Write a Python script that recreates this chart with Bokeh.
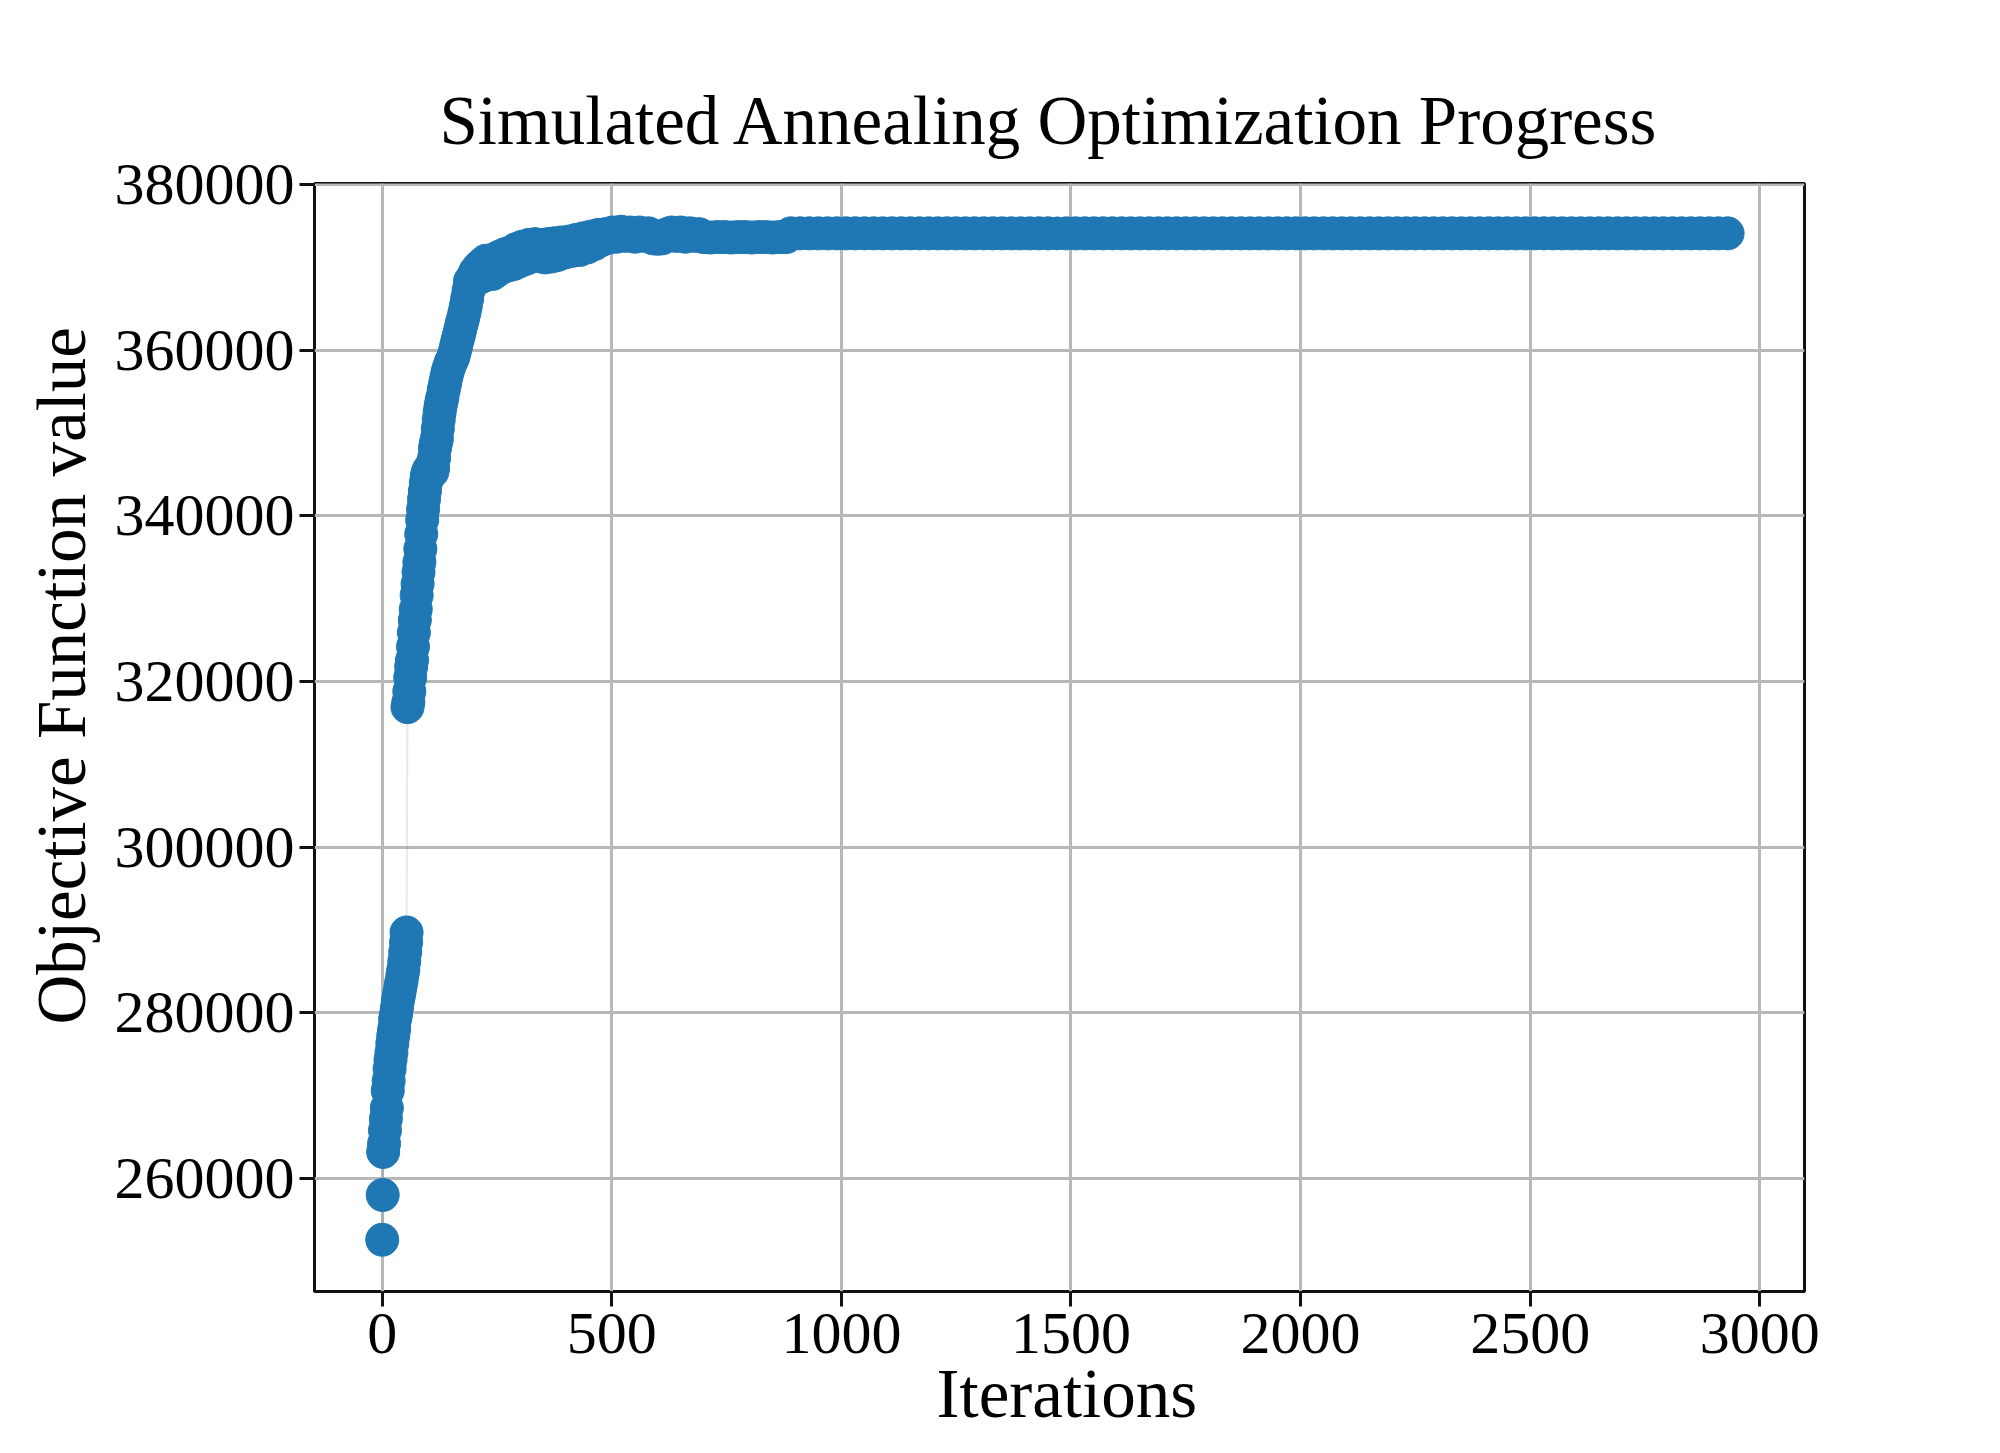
from bokeh.plotting import figure
from bokeh.models import Range1d, FixedTicker, Title
from bokeh.embed import file_html
from bokeh.resources import INLINE

# ---- data ----
# early climb (iterations 0-54)
iter_early = [0, 1, 2, 4, 6, 8, 10, 12, 14, 16, 18, 20, 22, 24, 26, 28, 30,
              32, 34, 36, 38, 40, 42, 44, 46, 48, 50, 52, 53]
value_early = [252600, 258000, 263200, 264200, 265800, 267200, 268500, 270600,
               271800, 273200, 274300, 275200, 276300, 277200, 278000, 279200,
               279800, 280600, 281400, 282000, 282600, 283300, 283800, 284600,
               285200, 286200, 287300, 288500, 289700]

# steep climb after the jump (iterations 55-200)
iter_steep = [55, 57, 59, 61, 63, 65, 67, 69, 71, 73, 75, 77, 79, 81, 83, 85,
              87, 89, 91, 93, 95, 97, 99, 101, 103, 105, 107, 109, 111, 113,
              115, 117, 119, 121, 123, 125, 127, 129, 131, 134, 137, 140, 143,
              146, 149, 152, 155, 158, 161, 164, 167, 170, 173, 176, 179, 182,
              185, 188, 191, 194, 197, 200]
value_steep = [316900, 317500, 318800, 320500, 321800, 322600, 324200, 325900,
               327400, 328700, 330400, 331800, 333200, 334400, 336000, 337800,
               339500, 340800, 342000, 343000, 344000, 344800, 345200, 345500,
               345000, 345600, 346000, 345300, 345800, 347000, 348200, 348800,
               349300, 350500, 351600, 352500, 353200, 353800, 354300, 355200,
               356000, 356800, 357500, 358000, 358500, 358800, 359200, 359800,
               360500, 361200, 361800, 362500, 363200, 363800, 364500, 365300,
               366200, 367200, 368300, 368000, 368800, 369100]

# slow approach to the plateau (iterations 203-690)
iter_knee = [203, 206, 210, 214, 218, 222, 226, 230, 235, 240, 245, 250, 256,
             262, 268, 274, 280, 286, 292, 298, 305, 312, 319, 326, 333, 340,
             347, 354, 361, 368, 375, 382, 390, 398, 406, 414, 422, 430, 438,
             446, 454, 462, 470, 478, 486, 494, 502, 510, 520, 530, 540, 550,
             560, 570, 580, 590, 600, 610, 620, 630, 640, 650, 660, 670, 680,
             690]
value_knee = [369500, 368600, 370000, 368800, 370400, 369000, 370800, 369400,
              370600, 369200, 371000, 369600, 371300, 370000, 371600, 370200,
              371800, 370400, 372200, 370700, 372500, 371000, 372700, 371300,
              372800, 371400, 372700, 371200, 372800, 371300, 372900, 371500,
              373000, 371800, 373100, 372000, 373300, 372100, 373500, 372400,
              373700, 372800, 373900, 373300, 374000, 373600, 374200, 373700,
              374300, 373800, 374200, 373700, 374200, 373800, 374100, 373500,
              373450, 373500, 374000, 374200, 373800, 374200, 373700, 374100,
              373800, 374000]

# short lower step (iterations 700-880)
iter_step = [700, 715, 730, 745, 760, 775, 790, 805, 820, 835, 850, 865, 880]
value_step = [373650, 373600, 373650, 373650, 373600, 373650, 373650, 373600,
              373650, 373650, 373600, 373650, 373650]

# final plateau (iterations 890-2949)
iter_plateau = [890, 910, 930, 950, 970, 990, 1010, 1030, 1050, 1070, 1090,
                1110, 1130, 1150, 1170, 1190, 1210, 1230, 1250, 1270, 1290,
                1310, 1330, 1350, 1370, 1390, 1410, 1430, 1450, 1470, 1490,
                1510, 1530, 1550, 1570, 1590, 1610, 1630, 1650, 1670, 1690,
                1710, 1730, 1750, 1770, 1790, 1810, 1830, 1850, 1870, 1890,
                1910, 1930, 1950, 1970, 1990, 2010, 2030, 2050, 2070, 2090,
                2110, 2130, 2150, 2170, 2190, 2210, 2230, 2250, 2270, 2290,
                2310, 2330, 2350, 2370, 2390, 2410, 2430, 2450, 2470, 2490,
                2510, 2530, 2550, 2570, 2590, 2610, 2630, 2650, 2670, 2690,
                2710, 2730, 2750, 2770, 2790, 2810, 2830, 2850, 2870, 2890,
                2910, 2930, 2949]
value_plateau = [374100, 374100, 374100, 374100, 374100, 374100, 374100,
                 374100, 374100, 374100, 374100, 374100, 374100, 374100,
                 374100, 374100, 374100, 374100, 374100, 374100, 374100,
                 374100, 374100, 374100, 374100, 374100, 374100, 374100,
                 374100, 374100, 374100, 374100, 374100, 374100, 374100,
                 374100, 374100, 374100, 374100, 374100, 374100, 374100,
                 374100, 374100, 374100, 374100, 374100, 374100, 374100,
                 374100, 374100, 374100, 374100, 374100, 374100, 374100,
                 374100, 374100, 374100, 374100, 374100, 374100, 374100,
                 374100, 374100, 374100, 374100, 374100, 374100, 374100,
                 374100, 374100, 374100, 374100, 374100, 374100, 374100,
                 374100, 374100, 374100, 374100, 374100, 374100, 374100,
                 374100, 374100, 374100, 374100, 374100, 374100, 374100,
                 374100, 374100, 374100, 374100, 374100, 374100, 374100,
                 374100, 374100, 374100, 374100, 374100]

x_ticks = [0, 500, 1000, 1500, 2000, 2500, 3000]
y_ticks = [260000, 280000, 300000, 320000, 340000, 360000, 380000]

iterations = iter_early + iter_steep + iter_knee + iter_step + iter_plateau
values = value_early + value_steep + value_knee + value_step + value_plateau

FONT = "Liberation Serif"
BLUE = "#1f77b4"

p = figure(width=1984, height=1437, output_backend="svg", toolbar_location=None,
           x_range=Range1d(-147.5, 3097.5), y_range=Range1d(246350, 380120),
           min_border_left=314, min_border_right=180, min_border_top=183,
           min_border_bottom=146, title="Simulated Annealing Optimization Progress")

p.line(iterations, values, line_color=BLUE, line_alpha=0.15, line_width=2)
p.scatter(iterations, values, size=33, fill_color=BLUE, line_color=BLUE)

p.title.text_font = FONT
p.title.text_font_size = "69px"
p.title.text_font_style = "normal"
p.title.text_color = "black"
p.title.align = "left"
p.title.standoff = 49
p.title.offset = 125

p.outline_line_color = "#111111"
p.outline_line_width = 3
p.outline_line_alpha = 1.0

for ax in (p.xaxis[0], p.yaxis[0]):
    ax.axis_line_color = None
    ax.major_tick_line_color = "#111111"
    ax.major_tick_line_width = 3
    ax.major_tick_out = 15
    ax.major_tick_in = 0
    ax.minor_tick_line_color = None
    ax.major_label_text_font = FONT
    ax.major_label_text_font_size = "60px"
    ax.major_label_text_color = "black"

p.xaxis[0].ticker = FixedTicker(ticks=x_ticks)
p.yaxis[0].ticker = FixedTicker(ticks=y_ticks)
p.xaxis[0].major_label_standoff = 7
p.yaxis[0].major_label_standoff = 5
p.yaxis[0].formatter.use_scientific = False

xlabel = Title(text="Iterations", align="left", offset=622, standoff=-3,
               text_font=FONT, text_font_size="69px", text_font_style="normal",
               text_color="black")
p.add_layout(xlabel, "below")

ylabel = Title(text="Objective Function value", align="left", offset=267,
               standoff=23, text_font=FONT, text_font_size="69px",
               text_font_style="normal", text_color="black")
p.add_layout(ylabel, "left")

p.xgrid.grid_line_color = "#b8b8b8"
p.ygrid.grid_line_color = "#b8b8b8"
p.xgrid.grid_line_width = 3
p.ygrid.grid_line_width = 3
p.xgrid.ticker = FixedTicker(ticks=x_ticks)
p.ygrid.ticker = FixedTicker(ticks=y_ticks)

open("out.html", "w").write(file_html(p, INLINE))
